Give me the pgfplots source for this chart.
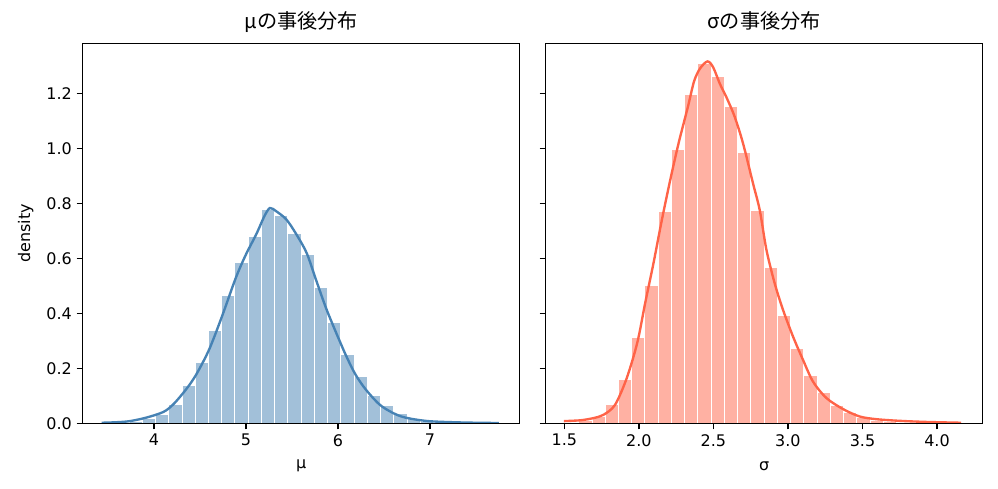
\documentclass[border=0pt]{standalone}
\usepackage{fontspec}
\setmainfont{DejaVu Sans}
\newfontfamily\jp{Noto Sans CJK JP}
\usepackage{pgfplots}
\pgfplotsset{compat=1.18}
\definecolor{steel}{HTML}{4682B4}
\definecolor{steelL}{HTML}{A2C0D9}
\definecolor{tom}{HTML}{FF6347}
\definecolor{tomL}{HTML}{FFB1A3}
\pgfplotsset{myax/.style={
  scale only axis, width=314.6pt, height=273.6pt, anchor=south west,
  ymin=0, ymax=1.384, ytick={0,0.2,0.4,0.6,0.8,1.0,1.2},
  tick align=outside, xtick pos=bottom, ytick pos=left, major tick length=4.3pt,
  axis line style={line width=0.92pt, black},
  every tick/.style={black, line width=0.92pt},
  tick label style={font=\fontsize{11.5}{13}\selectfont},
  /pgf/number format/assume math mode=true,
  title style={font=\jp\fontsize{14.5}{16}\selectfont, at={(0.5,1)}, anchor=base, yshift=4.5pt},
  xlabel style={font=\fontsize{11.5}{13}\selectfont, at={(axis description cs:0.5,-0.1122)}, anchor=center},
  ylabel style={font=\fontsize{11.5}{13}\selectfont, at={(axis description cs:-0.1303,0.5)}, anchor=center},
  axis on top,
}}
\begin{document}
\begin{tikzpicture}
\begin{axis}[myax, at={(0pt,0pt)},
  xmin=3.225, xmax=7.975, xtick={4,5,6,7},
  yticklabel style={/pgf/number format/.cd, fixed, fixed zerofill, precision=1},
  title={μの事後分布}, xlabel={μ}, ylabel={density}]
\addplot[ybar interval, fill=steelL, draw=white, line width=0.7pt] coordinates {
(3.441,0.001) (3.585,0.002) (3.729,0.006) (3.873,0.016) (4.017,0.033) (4.161,0.069)
(4.305,0.137) (4.449,0.223) (4.592,0.338) (4.736,0.465) (4.880,0.587) (5.024,0.679)
(5.168,0.778) (5.312,0.757) (5.456,0.693) (5.600,0.615) (5.744,0.493) (5.888,0.366)
(6.032,0.251) (6.176,0.170) (6.320,0.101) (6.464,0.064) (6.607,0.034) (6.751,0.016)
(6.895,0.008) (7.039,0.004) (7.183,0.002) (7.327,0.001) (7.471,0.001) (7.615,0.001)
(7.759,0.001)};
\addplot[steel, line width=1.7pt, smooth, tension=0.5] coordinates {
(3.43,0.002) (3.6,0.004) (3.74,0.008) (3.92,0.021) (4.10,0.041) (4.21,0.069)
(4.35,0.124) (4.46,0.178) (4.60,0.269) (4.74,0.39) (4.89,0.53) (5.00,0.615)
(5.11,0.687) (5.20,0.754) (5.26,0.784) (5.33,0.772) (5.44,0.742) (5.55,0.687)
(5.66,0.62) (5.76,0.524) (5.87,0.42) (5.98,0.33) (6.09,0.245) (6.19,0.178)
(6.30,0.124) (6.45,0.069) (6.59,0.039) (6.73,0.021) (6.98,0.008) (7.35,0.003) (7.75,0.001)};
\end{axis}
\begin{axis}[myax, at={(333.36pt,0pt)},
  xmin=1.375, xmax=4.306, xtick={1.5,2.0,2.5,3.0,3.5,4.0},
  xticklabel style={/pgf/number format/.cd, fixed, fixed zerofill, precision=1},
  yticklabels={,,,,,,,},
  title={σの事後分布}, xlabel={σ}]
\addplot[ybar interval, fill=tomL, draw=white, line width=0.7pt] coordinates {
(1.508,0.003) (1.597,0.010) (1.686,0.026) (1.774,0.068) (1.863,0.159) (1.952,0.311)
(2.041,0.501) (2.130,0.770) (2.219,0.998) (2.307,1.198) (2.396,1.311) (2.485,1.262)
(2.574,1.153) (2.663,0.988) (2.752,0.774) (2.840,0.569) (2.929,0.392) (3.018,0.273)
(3.107,0.174) (3.196,0.111) (3.285,0.066) (3.373,0.041) (3.462,0.020) (3.551,0.010)
(3.640,0.005) (3.729,0.003) (3.818,0.002) (3.906,0.001) (3.995,0.001) (4.084,0.001)
(4.173,0.001)};
\addplot[tom, line width=1.7pt, smooth, tension=0.5] coordinates {
(1.497,0.008) (1.609,0.011) (1.696,0.019) (1.763,0.031) (1.84,0.067) (1.919,0.165)
(1.99,0.295) (2.042,0.437) (2.098,0.583) (2.154,0.74) (2.21,0.885) (2.266,1.019)
(2.33,1.155) (2.37,1.245) (2.41,1.292) (2.46,1.318) (2.498,1.297) (2.543,1.237)
(2.587,1.188) (2.643,1.116) (2.699,1.019) (2.766,0.873) (2.811,0.776) (2.856,0.631)
(2.911,0.51) (2.967,0.413) (3.034,0.316) (3.101,0.231) (3.168,0.152) (3.258,0.092)
(3.369,0.052) (3.48,0.025) (3.592,0.015) (3.748,0.009) (3.927,0.005) (4.162,0.002)};
\end{axis}
\pgfresetboundingbox
\path[use as bounding box] (-59.54pt,-47.30pt) rectangle (659.02pt,304.78pt);
\end{tikzpicture}
\end{document}
